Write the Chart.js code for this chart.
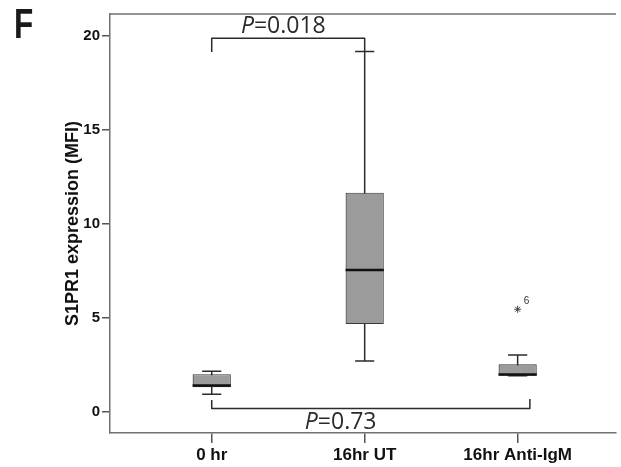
<!DOCTYPE html>
<html>
<head>
<meta charset="utf-8">
<script src="https://cdn.jsdelivr.net/npm/chart.js@4.4.1/dist/chart.umd.min.js"></script>
<style>
  html, body { margin: 0; padding: 0; background: #fff; }
  #wrap { position: relative; width: 621px; height: 467px; }
  #panel {
    position: absolute; left: 14px; top: 0px;
    font: bold 42px "Liberation Sans", Arial, sans-serif;
    color: #1a1a1a; transform: scaleX(0.75); transform-origin: left top;
  }
</style>
</head>
<body>
<div id="wrap">
  <canvas id="boxChart" width="621" height="467"></canvas>
  <div id="panel">F</div>
</div>
<script>
// groups and five-number summaries
const groups = ["0 hr", "16hr UT", "16hr Anti-IgM"];
const whiskerLow = [0.93, 2.70, 1.91];
const quartile1 = [1.30, 4.66, 1.91];
const medians = [1.39, 7.54, 1.98];
const quartile3 = [2.00, 11.65, 2.52];
const whiskerHigh = [2.16, 19.15, 3.02];
const outlierGroup = [2];
const outlierValue = [5.45];
const outlierCase = ["6"];
const yTicks = [0, 5, 10, 15, 20];

// pairwise tests drawn as brackets
const comparisons = [
  { from: 0, to: 1, p: "0.018" },
  { from: 0, to: 2, p: "0.73" }
];

const boxWidth = 0.25;
const capWidth = 0.125;
const lineDark = "#2b2b2b";

const boxPlotParts = {
  id: "boxPlotParts",
  beforeDatasetsDraw(chart) {
    const { ctx, scales: { x, y } } = chart;
    ctx.save();
    ctx.strokeStyle = lineDark;
    ctx.lineWidth = 1.5;
    groups.forEach((g, i) => {
      const cx = x.getPixelForValue(i);
      const half = x.getPixelForValue(i + capWidth / 2) - cx;
      ctx.beginPath();
      ctx.moveTo(cx, y.getPixelForValue(whiskerHigh[i]));
      ctx.lineTo(cx, y.getPixelForValue(whiskerLow[i]));
      [whiskerHigh[i], whiskerLow[i]].forEach(v => {
        const py = y.getPixelForValue(v);
        ctx.moveTo(cx - half, py);
        ctx.lineTo(cx + half, py);
      });
      ctx.stroke();
    });
    ctx.restore();
  },
  afterDatasetsDraw(chart) {
    const { ctx, chartArea, scales: { x, y } } = chart;
    ctx.save();

    // medians
    ctx.strokeStyle = "#111";
    ctx.lineWidth = 2.5;
    groups.forEach((g, i) => {
      const l = x.getPixelForValue(i - boxWidth / 2);
      const r = x.getPixelForValue(i + boxWidth / 2);
      const py = y.getPixelForValue(medians[i]);
      ctx.beginPath();
      ctx.moveTo(l, py);
      ctx.lineTo(r, py);
      ctx.stroke();
    });

    // case number next to the outlier
    ctx.fillStyle = "#333";
    ctx.font = "10px 'Liberation Sans', Arial, sans-serif";
    ctx.textAlign = "left";
    ctx.textBaseline = "middle";
    outlierGroup.forEach((g, k) => {
      ctx.fillText(outlierCase[k], x.getPixelForValue(g) + 6, y.getPixelForValue(outlierValue[k]) - 8);
    });

    // top frame line
    ctx.strokeStyle = "#707070";
    ctx.lineWidth = 1.5;
    ctx.beginPath();
    ctx.moveTo(chartArea.left, chartArea.top);
    ctx.lineTo(chartArea.right, chartArea.top);
    ctx.stroke();

    // significance brackets
    const brackets = [
      { c: comparisons[0], level: 19.86, legs: [19.13, 19.15], toX: 1, textX: 0.468, textY: 20.13 },
      { c: comparisons[1], level: 0.17, legs: [0.62, 0.68], toX: 2.08, textX: 0.843, textY: -0.94 }
    ];
    ctx.strokeStyle = lineDark;
    ctx.lineWidth = 1.5;
    ctx.lineJoin = "round";
    brackets.forEach(b => {
      const x1 = x.getPixelForValue(b.c.from);
      const x2 = x.getPixelForValue(b.toX);
      const yl = y.getPixelForValue(b.level);
      ctx.beginPath();
      ctx.moveTo(x1, y.getPixelForValue(b.legs[0]));
      ctx.lineTo(x1, yl);
      ctx.lineTo(x2, yl);
      ctx.lineTo(x2, y.getPixelForValue(b.legs[1]));
      ctx.stroke();

      const italic = "italic 23px 'Open Sans', sans-serif";
      const normal = "23px 'Open Sans', sans-serif";
      const rest = "=" + b.c.p;
      ctx.font = italic;
      const wP = ctx.measureText("P").width;
      ctx.font = normal;
      const wR = ctx.measureText(rest).width;
      const start = x.getPixelForValue(b.textX) - (wP + wR) / 2;
      const base = y.getPixelForValue(b.textY);
      ctx.fillStyle = "#2a2a2a";
      ctx.textAlign = "left";
      ctx.textBaseline = "alphabetic";
      ctx.font = italic;
      ctx.fillText("P", start, base);
      ctx.font = normal;
      ctx.fillText(rest, start + wP, base);
    });
    ctx.restore();
  }
};

const boxData = groups.map((g, i) => ({ x: i, y: [quartile1[i], quartile3[i]] }));
const outlierData = outlierGroup.map((g, k) => ({ x: g, y: outlierValue[k] }));

new Chart(document.getElementById("boxChart"), {
  type: "bar",
  data: {
    datasets: [
      {
        type: "bar",
        data: boxData,
        backgroundColor: "#9b9b9b",
        borderColor: "#3a3a3a",
        borderWidth: 1.2,
        borderSkipped: false,
        categoryPercentage: 1,
        barPercentage: boxWidth
      },
      {
        type: "scatter",
        data: outlierData,
        pointStyle: "star",
        radius: 3.5,
        borderColor: "#444",
        borderWidth: 1,
        backgroundColor: "#444"
      }
    ]
  },
  options: {
    responsive: false,
    devicePixelRatio: 1,
    animation: false,
    layout: { padding: { top: 14, right: 0, left: 0, bottom: 0 } },
    plugins: { legend: { display: false }, tooltip: { enabled: false } },
    scales: {
      x: {
        type: "linear",
        offset: false,
        min: -0.665,
        max: 2.643,
        afterBuildTicks: (scale) => { scale.ticks = groups.map((g, i) => ({ value: i })); },
        afterFit: (scale) => { scale.height = 34; },
        ticks: {
          callback: (v) => groups[v],
          font: { family: "'Liberation Sans', Arial, sans-serif", size: 17, weight: "bold" },
          color: "#111",
          padding: 2,
          maxRotation: 0,
          autoSkip: false
        },
        grid: { offset: false, drawOnChartArea: false, tickLength: 10, color: "#555", lineWidth: 1.5 },
        border: { color: "#707070", width: 1.5 }
      },
      y: {
        min: -1.13,
        max: 21.15,
        afterBuildTicks: (scale) => { scale.ticks = yTicks.map(v => ({ value: v })); },
        afterFit: (scale) => { scale.width = 110; },
        ticks: {
          font: { family: "'Liberation Sans', Arial, sans-serif", size: 15, weight: "bold" },
          color: "#111",
          padding: 2
        },
        grid: { drawOnChartArea: false, tickLength: 8, color: "#555", lineWidth: 1.5 },
        border: { color: "#707070", width: 1.5 },
        title: {
          display: true,
          text: "S1PR1 expression (MFI)",
          font: { family: "'Liberation Sans', Arial, sans-serif", size: 18, weight: "bold" },
          color: "#111",
          padding: { top: 62, bottom: 0 }
        }
      }
    }
  },
  plugins: [boxPlotParts]
});
</script>
</body>
</html>
